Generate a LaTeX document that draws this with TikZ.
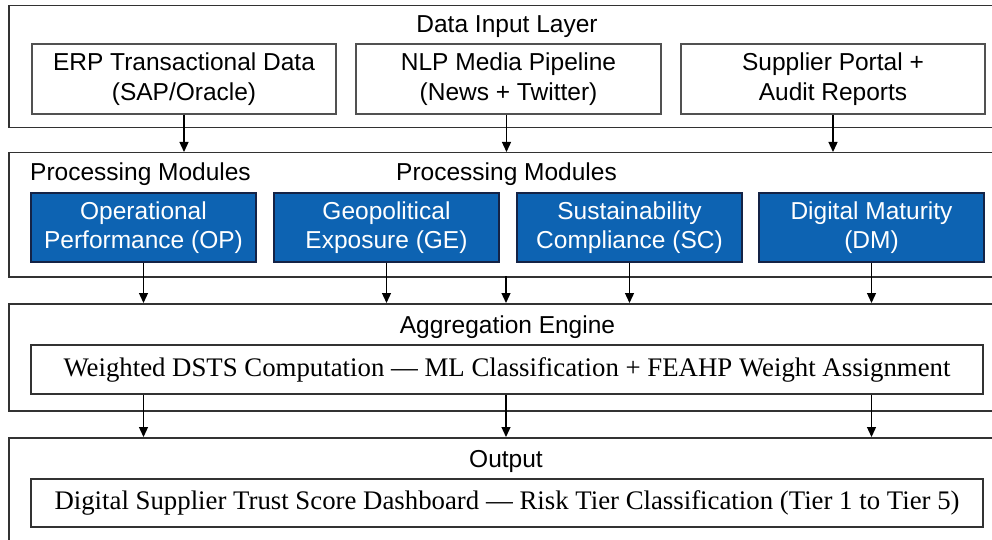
\documentclass[tikz,border=0pt]{standalone}
\usepackage{fontspec}
\setmainfont{Liberation Serif}
\setsansfont{Liberation Sans}
\usetikzlibrary{arrows.meta,calc}
\definecolor{modblue}{RGB}{13,99,178}
\definecolor{navy}{RGB}{20,35,70}
\definecolor{edge}{RGB}{50,50,50}
\begin{document}
\begin{tikzpicture}[x=1pt,y=-1pt,
  layer/.style={draw=edge,line width=1.5pt,rectangle,inner sep=0pt,anchor=north west},
  inbox/.style={draw=edge!85,line width=1.3pt,rectangle,fill=white,align=center,inner sep=0pt,
     font=\sffamily\fontsize{24.5}{29.5}\selectfont},
  bluebox/.style={draw=navy,line width=1.2pt,rectangle,fill=modblue,text=white,align=center,inner sep=0pt,
     minimum width=225pt,minimum height=69pt,font=\sffamily\fontsize{24.5}{29}\selectfont},
  serifbox/.style={draw=edge,line width=1.3pt,rectangle,fill=white,inner sep=0pt,
     minimum width=952pt,font=\rmfamily\fontsize{26.8}{30}\selectfont},
  ttl/.style={font=\sffamily\fontsize{24.5}{28}\selectfont,inner sep=0pt,anchor=base},
  arr/.style={draw=black,line width=1.3pt,-{Triangle[length=10pt,width=9pt]}}]
\useasboundingbox (0,0) rectangle (992,540);
\fill[white] (0,0) rectangle (992,540);
% layers
\node[layer,minimum width=1000pt,minimum height=122pt] (L1) at (8,5) {};
\node[layer,minimum width=1000pt,minimum height=124pt] (L2) at (8,152) {};
\node[layer,minimum width=1000pt,minimum height=107pt] (L3) at (8,303) {};
\node[layer,minimum width=1000pt,minimum height=130pt] (L4) at (8,437) {};
% titles
\node[ttl] (t1) at (507,33) {Data Input Layer};
\node[ttl] (t2a) at (140.5,181) {Processing Modules};
\node[ttl] (t2b) at (506.5,181) {Processing Modules};
\node[ttl] (t3) at (507.5,333) {Aggregation Engine};
\node[ttl] (t4) at (506,467) {Output};
% input boxes
\node[inbox,minimum width=304pt,minimum height=70pt] (erp) at (184,79) {ERP Transactional Data\\(SAP/Oracle)};
\node[inbox,minimum width=305pt,minimum height=70pt] (nlp) at (508.5,79) {NLP Media Pipeline\\(News + Twitter)};
\node[inbox,minimum width=304pt,minimum height=70pt] (sup) at (833,79) {Supplier Portal +\\Audit Reports};
% modules
\node[bluebox] (op) at (143.5,227.5) {Operational\\Performance (OP)};
\node[bluebox] (ge) at (386.5,227.5) {Geopolitical\\Exposure (GE)};
\node[bluebox] (sc) at (629.5,227.5) {Sustainability\\Compliance (SC)};
\node[bluebox] (dm) at (871.5,227.5) {Digital Maturity\\(DM)};
% aggregation and output
\node[serifbox,minimum height=49pt] (agg) at (507,369.5) {Weighted DSTS Computation --- ML Classification + FEAHP Weight Assignment};
\node[serifbox,minimum height=48pt] (out) at (507,503) {Digital Supplier Trust Score Dashboard --- Risk Tier Classification (Tier 1 to Tier 5)};
% connectors
\draw[arr] (erp.south) -- (erp.south |- L2.north);
\draw[arr] (nlp.south -| t2b.south) -- (t2b.south |- L2.north);
\draw[arr] (sup.south) -- (sup.south |- L2.north);
\draw[arr] (op.south) -- (op.south |- L3.north);
\draw[arr] (ge.south) -- (ge.south |- L3.north);
\coordinate (mid2) at (506,276);
\draw[arr] (mid2) -- (mid2 |- L3.north);
\draw[arr] (sc.south) -- (sc.south |- L3.north);
\draw[arr] (dm.south) -- (dm.south |- L3.north);
\draw[arr] (op.south |- agg.south) -- (op.south |- L4.north);
\draw[arr] (mid2 |- agg.south) -- (mid2 |- L4.north);
\draw[arr] (dm.south |- agg.south) -- (dm.south |- L4.north);
\end{tikzpicture}
\end{document}
